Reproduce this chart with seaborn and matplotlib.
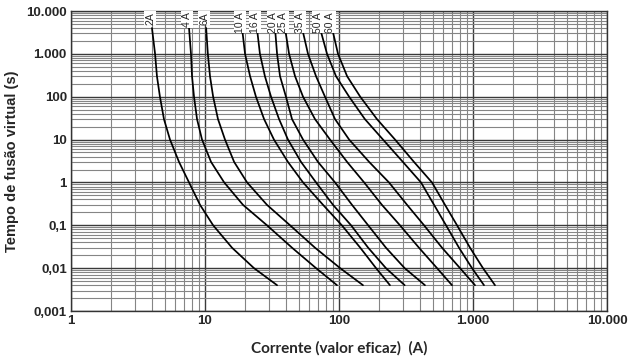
import numpy as np
import pandas as pd
import matplotlib
matplotlib.use("Agg")
import matplotlib.pyplot as plt
import matplotlib.transforms as mtransforms
from matplotlib.ticker import LogLocator, NullFormatter
import seaborn as sns

tempos = [4000, 1000, 300, 100, 30, 10, 3, 1, 0.3, 0.1, 0.03, 0.01, 0.004]

# corrente (A) de cada fusível nesses tempos
fusiveis = ["2A", "4 A", "6A", "10 A", "16 A", "20 A", "25 A", "35 A", "50 A", "60 A"]
i_2a = [4.02, 4.24, 4.38, 4.61, 4.94, 5.48, 6.40, 7.60, 9.18, 11.5, 15.9, 23.2, 34.5]
i_4a = [7.60, 7.86, 8.00, 8.28, 8.72, 9.50, 11.1, 13.9, 19.2, 29.0, 44.6, 67.4, 96.6]
i_6a = [10.2, 10.5, 10.9, 11.5, 12.5, 14.1, 16.5, 20.6, 29.0, 43.1, 66.2, 102, 151]
i_10a = [18.9, 19.9, 21.7, 24.0, 27.6, 32.7, 41.6, 53.9, 76.0, 105, 144, 189, 240]
i_16a = [24.4, 25.7, 28.0, 31.1, 35.7, 41.6, 52.1, 67.4, 90.2, 123, 165, 224, 309]
i_20a = [33.3, 34.5, 36.3, 40.2, 44.6, 53.9, 69.7, 93.4, 125, 165, 224, 309, 438]
i_25a = [39.5, 42.4, 47.0, 53.9, 66.2, 85.7, 115, 154, 209, 285, 395, 539, 697]
i_35a = [53.0, 58.7, 67.4, 78.6, 93.4, 119, 168, 236, 322, 431, 587, 800, 1035]
i_50a = [72.1, 81.4, 95.0, 119, 156, 213, 300, 409, 512, 629, 786, 983, 1208]
i_60a = [88.7, 98.3, 115, 144, 192, 262, 363, 494, 618, 760, 950, 1187, 1459]
correntes = [i_2a, i_4a, i_6a, i_10a, i_16a, i_20a, i_25a, i_35a, i_50a, i_60a]

x_ticks = [1, 10, 100, 1000, 10000]
x_labels = ["1", "10", "100", "1.000", "10.000"]
y_ticks = [0.001, 0.01, 0.1, 1, 10, 100, 1000, 10000]
y_labels = ["0,001", "0,01", "0,1", "1", "10", "100", "1.000", "10.000"]

rows = []
for nome, serie in zip(fusiveis, correntes):
    for t, i in zip(tempos, serie):
        rows.append({"fusivel": nome, "corrente": i, "tempo": t})
df = pd.DataFrame(rows)

sns.set_style("white")
plt.rcParams["font.family"] = ["Liberation Sans", "DejaVu Sans"]

fig, ax = plt.subplots(figsize=(6.29, 3.63), dpi=100)
fig.subplots_adjust(left=71 / 629, right=607 / 629, top=1 - 11 / 363, bottom=1 - 311 / 363)

ax.set_xscale("log")
ax.set_yscale("log")
ax.set_xlim(1, 10000)
ax.set_ylim(0.001, 10000)

sns.lineplot(data=df, x="corrente", y="tempo", hue="fusivel", units="fusivel",
             estimator=None, sort=False, palette=["black"] * len(fusiveis),
             linewidth=1.25, legend=False, ax=ax, zorder=3)

ax.xaxis.set_minor_locator(LogLocator(base=10, subs=np.arange(2, 10), numticks=100))
ax.yaxis.set_minor_locator(LogLocator(base=10, subs=np.arange(2, 10), numticks=100))
ax.xaxis.set_minor_formatter(NullFormatter())
ax.yaxis.set_minor_formatter(NullFormatter())
ax.set_xticks(x_ticks, x_labels)
ax.set_yticks(y_ticks, y_labels)
ax.grid(which="major", color="#3a3a3a", linewidth=1.0)
ax.grid(which="minor", color="#858585", linewidth=0.8)
ax.set_axisbelow(True)
ax.tick_params(which="both", length=0, labelsize=9.5, pad=3)
for lab in ax.get_xticklabels() + ax.get_yticklabels():
    lab.set_fontweight("bold")
for s in ax.spines.values():
    s.set_color("#333333")
    s.set_linewidth(1.0)

# rótulos das curvas no topo
off = mtransforms.offset_copy(ax.transData, fig=fig, x=-2, y=-1, units="dots")
for nome, serie in zip(fusiveis, correntes):
    ax.text(serie[0], 10000, nome, rotation=90, ha="center", va="top", fontsize=7.5,
            transform=off, zorder=5,
            bbox=dict(facecolor="white", edgecolor="none", pad=0.5))

ax.set_xlabel("Corrente (valor eficaz)  (A)", fontsize=11, fontweight="bold",
              family=["Lato", "DejaVu Sans"], labelpad=10)
ax.set_ylabel("Tempo de fusão virtual (s)", fontsize=10.5, fontweight="bold", labelpad=5)

fig.savefig("out.png", dpi=100)
